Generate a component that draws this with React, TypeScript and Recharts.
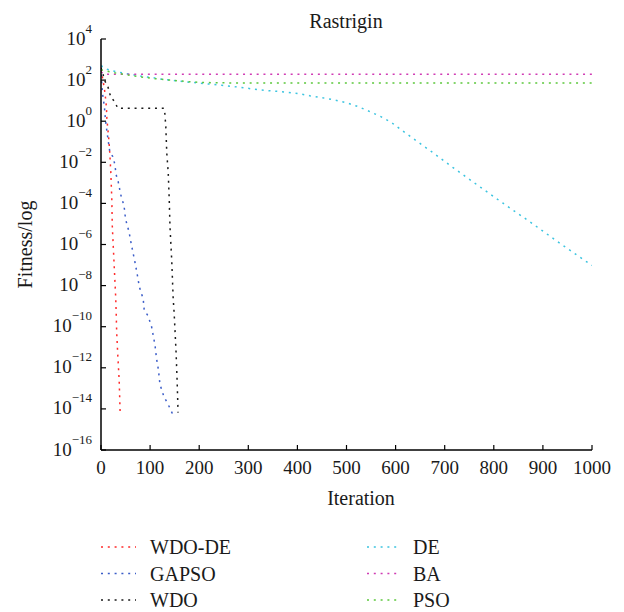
import React from 'react';
import { LineChart, Line, XAxis, YAxis, Legend } from 'recharts';

// ---- data (iteration, fitness) ----
const wdoDe = [
  { x: 0, y: 3.2e2 }, { x: 4, y: 1.0e2 }, { x: 8, y: 2.5e1 }, { x: 11, y: 5.0 },
  { x: 12, y: 1.26 }, { x: 16, y: 1.26e-1 }, { x: 18, y: 2.5e-2 }, { x: 20, y: 3.2e-3 },
  { x: 22, y: 1.6e-4 }, { x: 23, y: 7.9e-6 }, { x: 25, y: 7.9e-7 }, { x: 27, y: 7.9e-8 },
  { x: 30, y: 2.5e-9 }, { x: 31, y: 4.0e-10 }, { x: 32, y: 5.0e-11 }, { x: 34, y: 5.0e-12 },
  { x: 37, y: 2.5e-13 }, { x: 39, y: 6.3e-15 },
];

const gapso = [
  { x: 0, y: 4.0e2 }, { x: 1, y: 1.0e2 }, { x: 3, y: 2.3e1 }, { x: 5, y: 1.07e1 },
  { x: 7, y: 5.0 }, { x: 8, y: 2.4 }, { x: 9, y: 1.23 }, { x: 12, y: 3.2e-1 },
  { x: 15, y: 1.0e-1 }, { x: 18, y: 3.2e-2 }, { x: 24, y: 1.9e-2 }, { x: 28, y: 8.3e-3 },
  { x: 31, y: 2.4e-3 }, { x: 35, y: 1.15e-3 }, { x: 40, y: 2.75e-4 }, { x: 47, y: 7.4e-5 },
  { x: 50, y: 1.7e-5 }, { x: 57, y: 4.2e-6 }, { x: 62, y: 9.5e-7 }, { x: 69, y: 1.45e-7 },
  { x: 74, y: 3.3e-8 }, { x: 78, y: 8.9e-9 }, { x: 86, y: 2.2e-9 }, { x: 88, y: 6.5e-10 },
  { x: 96, y: 3.3e-10 }, { x: 103, y: 1.0e-10 }, { x: 110, y: 1.26e-11 }, { x: 113, y: 2.9e-12 },
  { x: 117, y: 7.9e-13 }, { x: 120, y: 1.6e-13 }, { x: 128, y: 4.0e-14 }, { x: 137, y: 1.6e-14 },
  { x: 146, y: 5.5e-15 },
];

const wdo = [
  { x: 0, y: 4.0e2 }, { x: 4, y: 2.0e2 }, { x: 7, y: 1.0e2 }, { x: 14, y: 4.8e1 },
  { x: 20, y: 1.45e1 }, { x: 28, y: 8.9 }, { x: 34, y: 4.3 }, { x: 128, y: 4.3 },
  { x: 130, y: 2.4 }, { x: 132, y: 5.4e-1 }, { x: 134, y: 2.75e-2 }, { x: 137, y: 2.9e-3 },
  { x: 139, y: 1.5e-4 }, { x: 140.5, y: 7.4e-6 }, { x: 144, y: 1.8e-7 }, { x: 147, y: 2.4e-9 },
  { x: 149, y: 4.5e-10 }, { x: 151, y: 4.8e-11 }, { x: 153, y: 5.0e-12 }, { x: 155, y: 2.5e-13 },
  { x: 157, y: 6.6e-15 },
];

const de = [
  { x: 0, y: 5.0e2 }, { x: 12, y: 3.4e2 }, { x: 25, y: 2.75e2 }, { x: 50, y: 2.1e2 },
  { x: 80, y: 1.58e2 }, { x: 113, y: 1.23e2 }, { x: 124, y: 1.1e2 }, { x: 181, y: 7.9e1 },
  { x: 246, y: 5.6e1 }, { x: 283, y: 4.5e1 }, { x: 324, y: 3.3e1 }, { x: 351, y: 2.95e1 },
  { x: 378, y: 2.6e1 }, { x: 402, y: 2.2e1 }, { x: 425, y: 1.74e1 }, { x: 451, y: 1.38e1 },
  { x: 476, y: 1.07e1 }, { x: 500, y: 7.9 }, { x: 524, y: 5.1 }, { x: 548, y: 2.9 },
  { x: 570, y: 1.66 }, { x: 592, y: 8.5e-1 }, { x: 612, y: 3.7e-1 }, { x: 639, y: 1.26e-1 },
  { x: 676, y: 2.95e-2 }, { x: 717, y: 5.5e-3 }, { x: 778, y: 5.0e-4 }, { x: 818, y: 1.05e-4 },
  { x: 873, y: 1.3e-5 }, { x: 934, y: 1.17e-6 }, { x: 1000, y: 9.5e-8 },
];

const ba = [
  { x: 0, y: 2.5e2 }, { x: 6, y: 1.95e2 }, { x: 1000, y: 1.9e2 },
];

const pso = [
  { x: 0, y: 3.2e2 }, { x: 25, y: 2.3e2 }, { x: 50, y: 1.86e2 }, { x: 80, y: 1.45e2 },
  { x: 110, y: 1.17e2 }, { x: 140, y: 1.0e2 }, { x: 175, y: 8.5e1 }, { x: 210, y: 7.6e1 },
  { x: 260, y: 7.3e1 }, { x: 1000, y: 7.2e1 },
];

const xTicks = [0, 100, 200, 300, 400, 500, 600, 700, 800, 900, 1000];
const yTicks = [1e4, 1e2, 1e0, 1e-2, 1e-4, 1e-6, 1e-8, 1e-10, 1e-12, 1e-14, 1e-16];

const seriesNames = ['WDO-DE', 'GAPSO', 'WDO', 'DE', 'BA', 'PSO'];
const seriesColors = ['#ff2a2a', '#3a5cc8', '#1a1a1a', '#3cc4e0', '#d03cb4', '#5cc83c'];
const seriesData = [wdoDe, gapso, wdo, de, ba, pso];

const FONT = "'Liberation Serif', 'Times New Roman', Times, serif";
const TEXT = '#1a1a1a';
const DASH = '2 4.8';
const txt = { fontFamily: FONT };

const XTickBottom = (props: any) => {
  const { x, y, payload } = props;
  return (
    <g>
      <line x1={x} y1={y} x2={x} y2={y - 5} stroke="#000" strokeWidth={1.2} />
      <text x={x} y={y + 23.5} textAnchor="middle" fontSize={19} style={txt} fill={TEXT}>
        {String(payload.value)}
      </text>
    </g>
  );
};

const XTickTop = (props: any) => {
  const { x, y } = props;
  return <line x1={x} y1={y} x2={x} y2={y + 5} stroke="#000" strokeWidth={1.2} />;
};

const YTickLeft = (props: any) => {
  const { x, y, payload } = props;
  const exp = Math.round(Math.log10(payload.value));
  const expStr = exp < 0 ? '\u2212' + String(-exp) : String(exp);
  return (
    <g>
      <line x1={x} y1={y} x2={x + 5} y2={y} stroke="#000" strokeWidth={1.2} />
      <text x={x - 9} y={y + 5.5} textAnchor="end" style={txt} fill={TEXT}>
        <tspan fontSize={19}>10</tspan>
        <tspan fontSize={13} dy={-12}>{expStr}</tspan>
      </text>
    </g>
  );
};

const YTickRight = (props: any) => {
  const { x, y } = props;
  return <line x1={x} y1={y} x2={x - 5} y2={y} stroke="#000" strokeWidth={1.2} />;
};

const LegendContent = (props: any) => {
  const payload = [...(props.payload || [])].sort(
    (a: any, b: any) => seriesNames.indexOf(a.value) - seriesNames.indexOf(b.value)
  );
  const rows = [17, 43.5, 70];
  return (
    <svg width={624} height={82} style={{ display: 'block' }}>
      {payload.map((entry: any, i: number) => {
        const col = i < 3 ? 0 : 1;
        const cy = rows[i % 3];
        const lx1 = col === 0 ? 101 : 367;
        const lx2 = col === 0 ? 136 : 401;
        const tx = col === 0 ? 150 : 413;
        return (
          <g key={entry.value}>
            <line x1={lx1} y1={cy} x2={lx2} y2={cy} stroke={entry.color} strokeWidth={1.5} strokeDasharray={DASH} />
            <text x={tx} y={cy + 7} fontSize={20} style={txt} fill={TEXT}>
              {entry.value}
            </text>
          </g>
        );
      })}
    </svg>
  );
};

export default function App() {
  return (
    <div style={{ position: 'absolute', left: 0, top: 0, width: 624, height: 612, background: '#fff', fontFamily: FONT }}>
      <LineChart width={624} height={612} margin={{ top: 39, right: 32, bottom: 122, left: 41 }}>
        <XAxis
          xAxisId="b"
          dataKey="x"
          type="number"
          domain={[0, 1000]}
          ticks={xTicks}
          allowDataOverflow
          height={40}
          tickSize={0}
          tickMargin={0}
          tickLine={false}
          axisLine={{ stroke: '#000', strokeWidth: 1.5 }}
          tick={(p: any) => <XTickBottom {...p} />}
          interval={0}
        />
        <XAxis
          xAxisId="t"
          orientation="top"
          dataKey="x"
          type="number"
          domain={[0, 1000]}
          ticks={xTicks}
          allowDataOverflow
          height={0}
          tickSize={0}
          tickMargin={0}
          tickLine={false}
          axisLine={{ stroke: '#000', strokeWidth: 1.5 }}
          tick={(p: any) => <XTickTop {...p} />}
          interval={0}
        />
        <YAxis
          yAxisId="l"
          type="number"
          scale="log"
          domain={[1e-16, 1e4]}
          ticks={yTicks}
          allowDataOverflow
          width={60}
          tickSize={0}
          tickMargin={0}
          tickLine={false}
          axisLine={{ stroke: '#000', strokeWidth: 1.5 }}
          tick={(p: any) => <YTickLeft {...p} />}
          interval={0}
        />
        <YAxis
          yAxisId="r"
          orientation="right"
          type="number"
          scale="log"
          domain={[1e-16, 1e4]}
          ticks={yTicks}
          allowDataOverflow
          width={0}
          tickSize={0}
          tickMargin={0}
          tickLine={false}
          axisLine={{ stroke: '#000', strokeWidth: 1.5 }}
          tick={(p: any) => <YTickRight {...p} />}
          interval={0}
        />
        {seriesNames.map((name, i) => (
          <Line
            key={name}
            xAxisId="b"
            yAxisId="l"
            data={seriesData[i]}
            dataKey="y"
            name={name}
            type="linear"
            stroke={seriesColors[i]}
            strokeWidth={1.5}
            strokeDasharray={DASH}
            dot={false}
            activeDot={false}
            isAnimationActive={false}
          />
        ))}
        <Legend
          layout="vertical"
          align="center"
          verticalAlign="middle"
          wrapperStyle={{ left: 0, top: 530, width: 624, height: 82 }}
          content={(p: any) => <LegendContent {...p} />}
        />
        <text x={346} y={28} textAnchor="middle" fontSize={20} style={txt} fill={TEXT}>
          Rastrigin
        </text>
        <text x={361} y={505} textAnchor="middle" fontSize={20} style={txt} fill={TEXT}>
          Iteration
        </text>
        <text
          x={25}
          y={244.5}
          textAnchor="middle"
          dominantBaseline="central"
          transform="rotate(-90, 25, 244.5)"
          fontSize={20}
          style={txt}
          fill={TEXT}
        >
          Fitness/log
        </text>
      </LineChart>
    </div>
  );
}
